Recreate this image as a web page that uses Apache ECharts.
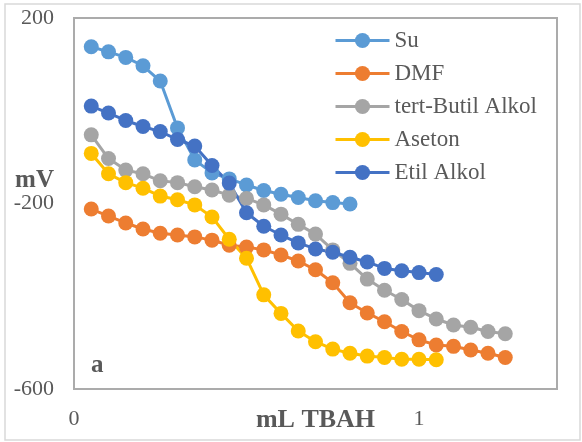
<!DOCTYPE html>
<html>
<head>
<meta charset="utf-8">
<script src="https://cdn.jsdelivr.net/npm/echarts@6/dist/echarts.min.js"></script>
<style>
  html, body { margin: 0; padding: 0; background: #fff; }
  #main { width: 582px; height: 442px; }
</style>
</head>
<body>
<div id="main"></div>
<script>
// mL TBAH
var xValues = [0.05, 0.10, 0.15, 0.20, 0.25, 0.30, 0.35, 0.40, 0.45, 0.50,
               0.55, 0.60, 0.65, 0.70, 0.75, 0.80, 0.85, 0.90, 0.95, 1.00,
               1.05, 1.10, 1.15, 1.20, 1.25];

// mV
var su     = [138, 127, 115, 97, 64, -37, -106, -134, -147, -160, -172, -180, -187, -194, -198, -201];
var dmf    = [-212, -227, -242, -255, -264, -268, -272, -279, -290, -294, -300, -311, -324, -343, -371,
              -414, -436, -455, -476, -494, -505, -508, -516, -523, -532];
var tBut   = [-52, -103, -128, -136, -151, -155, -164, -171, -182, -189, -203, -223, -245, -266, -300,
              -329, -363, -387, -407, -431, -449, -462, -467, -476, -481];
var aseton = [-92, -136, -155, -167, -184, -192, -203, -229, -277, -318, -397, -437, -475, -498, -514,
              -523, -529, -532, -536, -536, -537];
var etil   = [10, -5, -21, -34, -45, -62, -76, -118, -156, -220, -249, -268, -285, -298, -305,
              -316, -326, -340, -345, -349, -353];

var seriesNames  = ['Su', 'DMF', 'tert-Butil Alkol', 'Aseton', 'Etil Alkol'];
var seriesColors = ['#5B9BD5', '#ED7D31', '#A5A5A5', '#FFC000', '#4472C4'];

var xTickLabels = [0, 1];
var yTickLabels = [200, -200, -600];

var font = '"Times New Roman", "Liberation Serif", serif';
var frameColor = '#ABABAB';

function pairs(ys) {
    var out = [];
    for (var i = 0; i < ys.length; i++) {
        out.push([xValues[i], ys[i]]);
    }
    return out;
}

var myChart = echarts.init(document.getElementById('main'));

var allData = [su, dmf, tBut, aseton, etil];
var series = [];
for (var k = 0; k < allData.length; k++) {
    series.push({
        name: seriesNames[k],
        type: 'line',
        data: pairs(allData[k]),
        symbol: 'circle',
        symbolSize: 15,
        lineStyle: { width: 3, color: seriesColors[k] },
        itemStyle: { color: seriesColors[k] },
        emphasis: { disabled: true }
    });
}

var option = {
    animation: false,
    backgroundColor: '#fff',
    textStyle: { fontFamily: font },
    grid: {
        left: 74,
        top: 18,
        right: 25,
        bottom: 53,
        containLabel: false,
        outerBoundsMode: 'none',
        show: true,
        borderColor: frameColor,
        borderWidth: 2
    },
    legend: {
        orient: 'vertical',
        left: 334,
        top: 29,
        padding: 0,
        itemWidth: 54,
        itemHeight: 19,
        itemGap: 10,
        itemStyle: { borderWidth: 0 },
        lineStyle: { width: 3 },
        textStyle: { fontFamily: font, fontSize: 23, color: '#595959', lineHeight: 22 },
        data: seriesNames
    },
    xAxis: {
        type: 'value',
        min: 0,
        max: 1.4,
        interval: 1,
        name: 'mL TBAH',
        nameLocation: 'middle',
        nameGap: 18,
        nameMoveOverlap: false,
        nameTextStyle: { fontFamily: font, fontSize: 26, fontWeight: 'bold', color: '#595959' },
        axisLine: { show: true, onZero: false, lineStyle: { color: frameColor, width: 2 } },
        axisTick: { show: false },
        splitLine: { show: false },
        axisLabel: {
            margin: 19,
            fontFamily: font,
            fontSize: 22,
            color: '#595959',
            showMaxLabel: false,
            formatter: function (v) {
                return xTickLabels.indexOf(v) >= 0 ? String(v) : '';
            }
        }
    },
    yAxis: {
        type: 'value',
        min: -600,
        max: 200,
        interval: 200,
        axisLine: { show: true, onZero: false, lineStyle: { color: frameColor, width: 2 } },
        axisTick: { show: false },
        splitLine: { show: false },
        axisLabel: {
            margin: 20,
            fontFamily: font,
            fontSize: 22,
            color: '#595959',
            formatter: function (v) {
                return yTickLabels.indexOf(v) >= 0 ? String(v) : '';
            }
        }
    },
    graphic: [
        {
            type: 'rect',
            shape: { x: 5, y: 4, width: 575, height: 436 },
            style: { fill: 'none', stroke: '#D9D9D9', lineWidth: 1.5 },
            silent: true
        },
        {
            type: 'text',
            right: 582 - 54,
            top: 168,
            style: { text: 'mV', font: 'bold 25px ' + font, fill: '#595959' }
        },
        {
            type: 'text',
            left: 91,
            top: 353,
            style: { text: 'a', font: 'bold 25px ' + font, fill: '#595959' }
        }
    ],
    series: series
};

myChart.setOption(option);
</script>
</body>
</html>
